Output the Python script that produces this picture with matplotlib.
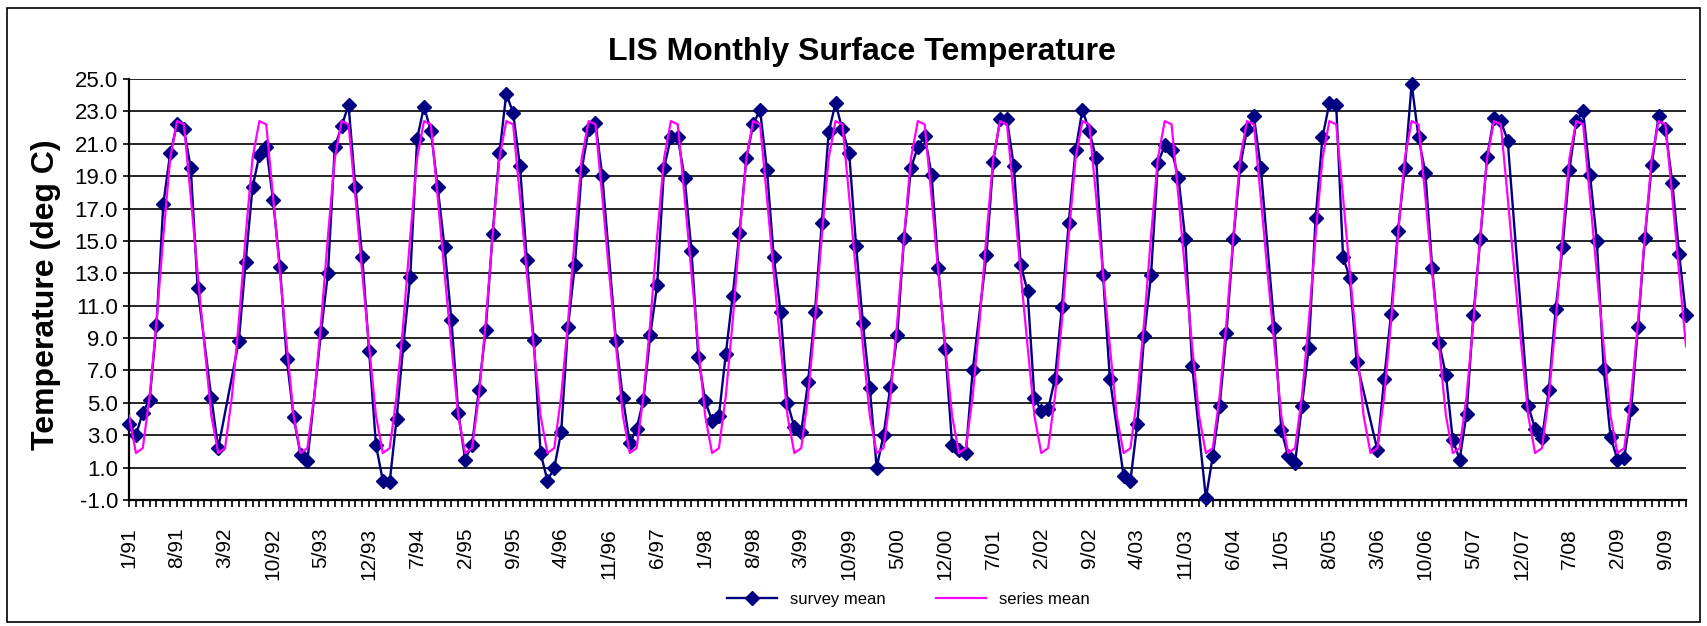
import numpy as np
import pandas as pd
import matplotlib
matplotlib.use('Agg')
import matplotlib.pyplot as plt
from matplotlib.ticker import FuncFormatter
from matplotlib.patches import Rectangle

plt.rcParams['font.family'] = ['Liberation Sans', 'DejaVu Sans']

nan = np.nan

# Monthly survey mean temperature, Jan 1991 - Dec 2009 (nan = no survey)
survey_mean = [
    3.7, 3.0, 4.4, 5.2, 9.8, 17.3, 20.4, 22.2, 21.9, 19.5, 12.1, nan,    # 1991
    5.3, 2.2, nan, nan, 8.8, 13.7, 18.3, 20.3, 20.8, 17.5, 13.4, 7.7,    # 1992
    4.1, 1.8, 1.4, nan, 9.4, 13.0, 20.8, 22.1, 23.4, 18.3, 14.0, 8.2,    # 1993
    2.4, 0.2, 0.1, 4.0, 8.6, 12.8, 21.3, 23.3, 21.8, 18.3, 14.6, 10.1,   # 1994
    4.4, 1.5, 2.4, 5.8, 9.5, 15.4, 20.4, 24.1, 22.9, 19.6, 13.8, 8.9,    # 1995
    1.9, 0.2, 1.0, 3.2, 9.7, 13.5, 19.4, 21.9, 22.3, 19.0, nan, 8.8,     # 1996
    5.3, 2.5, 3.4, 5.2, 9.2, 12.3, 19.5, 21.4, 21.4, 18.9, 14.4, 7.8,    # 1997
    5.1, 3.9, 4.2, 8.0, 11.6, 15.5, 20.1, 22.2, 23.1, 19.4, 14.0, 10.6,  # 1998
    5.0, 3.5, 3.2, 6.3, 10.6, 16.1, 21.7, 23.5, 21.9, 20.4, 14.7, 9.9,   # 1999
    5.9, 1.0, 3.0, 6.0, 9.2, 15.2, 19.5, 20.8, 21.5, 19.1, 13.3, 8.3,    # 2000
    2.4, 2.1, 1.9, 7.0, nan, 14.1, 19.9, 22.5, 22.5, 19.6, 13.5, 11.9,   # 2001
    5.3, 4.5, 4.6, 6.5, 10.9, 16.1, 20.6, 23.1, 21.8, 20.1, 12.9, 6.5,   # 2002
    nan, 0.5, 0.2, 3.7, 9.1, 12.9, 19.8, 20.9, 20.6, 18.9, 15.1, 7.3,    # 2003
    nan, -0.9, 1.7, 4.8, 9.3, 15.1, 19.6, 21.9, 22.7, 19.5, nan, 9.6,    # 2004
    3.3, 1.7, 1.3, 4.8, 8.4, 16.4, 21.4, 23.5, 23.4, 14.0, 12.7, 7.5,    # 2005
    nan, nan, 2.1, 6.5, 10.5, 15.6, 19.5, 24.7, 21.4, 19.2, 13.3, 8.7,   # 2006
    6.7, 2.7, 1.5, 4.3, 10.4, 15.1, 20.2, 22.6, 22.4, 21.2, nan, nan,    # 2007
    4.8, 3.4, 2.8, 5.8, 10.8, 14.6, 19.4, 22.4, 23.0, 19.1, 15.0, 7.1,   # 2008
    2.9, 1.5, 1.6, 4.6, 9.7, 15.2, 19.7, 22.7, 21.9, 18.6, 14.2, 10.4,   # 2009
]

# long-term mean for each calendar month, Jan..Dec
series_clim = [4.2, 1.9, 2.2, 5.4, 10.0, 15.3, 20.1, 22.4, 22.2, 17.7, 13.0, 8.5]

months = pd.date_range('1991-01-01', '2009-12-01', freq='MS')
month_labels = [f'{d.month}/{d:%y}' for d in months]

survey = np.array(survey_mean, dtype=float)
series = np.tile(series_clim, len(months) // 12)
x = np.arange(len(months))
ok = ~np.isnan(survey)

fig = plt.figure(figsize=(17.07, 6.26), dpi=100)
ax = fig.add_axes([0.0756, 0.2013, 0.9121, 0.6725])

ax.plot(x[ok], survey[ok], color='#000080', lw=1.7, marker='D', ms=7.5,
        clip_on=False, zorder=3, label='survey mean')
ax.plot(x, series, color='#FF00FF', lw=1.6, zorder=4, label='series mean')

ax.set_xlim(0, len(months) - 1)
ax.set_ylim(-1, 25)
ax.set_yticks(np.arange(-1, 26, 2))
ax.yaxis.set_major_formatter(FuncFormatter(lambda v, p: f'{v:.1f}'))
ax.grid(axis='y', color='black', lw=1.2)
ax.set_axisbelow(True)

ax.set_xticks(x[::7])
ax.set_xticklabels(month_labels[::7], rotation=90)
ax.set_xticks(x, minor=True)

for side in ['top', 'right']:
    ax.spines[side].set_visible(False)
for side in ['left', 'bottom']:
    ax.spines[side].set_linewidth(1.6)

ax.tick_params(axis='both', which='both', direction='out', width=1.2, colors='black')
ax.tick_params(axis='x', which='both', length=5, labelsize=15, pad=15)
ax.tick_params(axis='y', length=4, labelsize=16, pad=4)

fig.text(0.505, 0.917, 'LIS Monthly Surface Temperature', fontsize=23,
         fontweight='bold', ha='center', va='center')
fig.text(0.027, 0.53, 'Temperature (deg C)', fontsize=23, fontweight='bold',
         rotation=90, ha='center', va='center')

fig.legend(loc='center', bbox_to_anchor=(0.532, 0.042), ncol=2, frameon=False,
           fontsize=12, handlelength=3, columnspacing=3)

fig.patches.append(Rectangle((0.004, 0.006), 0.992, 0.981, transform=fig.transFigure,
                             fill=False, ec='black', lw=1.2))

fig.savefig('out.png', dpi=100)
